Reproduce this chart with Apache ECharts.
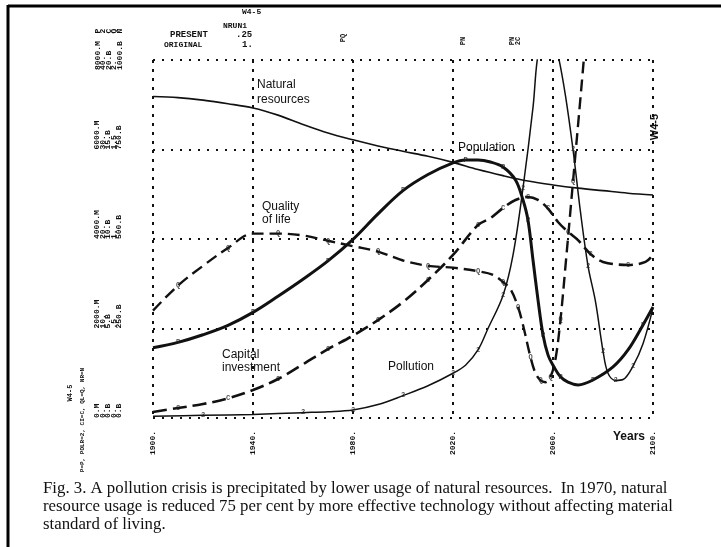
<!DOCTYPE html>
<html><head><meta charset="utf-8">
<script src="https://cdn.jsdelivr.net/npm/echarts@6/dist/echarts.min.js"></script>
<style>html,body{margin:0;padding:0;background:#fff}#c{width:721px;height:547px}</style>
</head><body><div id="c"></div>
<script>
// ---- data ----
const nrYears = [1900,1910,1920,1930,1940,1950,1960,1970,1980,1990,2000,2010,2020,2030,2040,2050,2060,2070,2080,2090,2100];
const nrValues = [898,895,888,878,866,846,820,796,777,760,745,731,714,694,677,662,651,642,635,628,623];

const popYears = [1900,1910,1920,1930,1940,1950,1960,1970,1980,1990,2000,2010,2020,2025,2030,2035,2040,2045,2048,2050,2052,2054,2056,2058,2060,2063,2066,2070,2076,2084,2090,2096,2100];
const popValues = [1570,1690,1860,2070,2360,2720,3100,3510,3990,4560,5080,5440,5700,5765,5765,5720,5610,5320,4870,4420,3530,2640,1860,1410,1180,920,800,740,850,1140,1520,2080,2480];

const ciYears = [1900,1910,1920,1930,1940,1950,1960,1970,1980,1990,2000,2010,2020,2030,2035,2040,2045,2050,2054,2058,2062,2066,2070,2075,2080,2090,2097,2100];
const ciValues = [0.34,0.56,0.78,1.1,1.56,2.18,3.0,3.85,4.6,5.47,6.48,7.71,9.11,10.78,11.17,11.73,12.18,12.35,12.18,11.7,10.95,10.4,9.94,9.16,8.72,8.55,8.72,9.11];

const qlYears = [1900,1910,1920,1930,1940,1950,1960,1970,1980,1990,2000,2010,2020,2030,2036,2040,2043,2046,2048,2051,2053,2055,2057,2059,2061,2063,2065,2068,2072,2076];
const qlValues = [0.60,0.74,0.85,0.95,1.03,1.03,1.02,0.99,0.96,0.93,0.88,0.85,0.84,0.82,0.80,0.76,0.72,0.62,0.52,0.34,0.25,0.21,0.20,0.23,0.33,0.55,0.85,1.32,1.95,2.6];

const polYears = [1900,1920,1940,1960,1970,1980,1990,2000,2010,2020,2025,2030,2034,2040,2044,2048,2052,2054,2058,2062,2065,2068,2071,2074,2077,2080,2082,2085,2088,2092,2096,2100];
const polValues = [0.2,0.3,0.4,0.6,0.7,0.9,1.5,2.5,3.6,5.0,5.9,7.6,10.0,13.7,18.2,25.7,34.7,40.6,45,40.6,36,30,23,17,13,7.5,5,4.2,4.3,5.8,8.3,12.3];

// ---- tick labels ----
const xTickLabels = ['1900.','1940.','1980.','2020.','2060.','2100.'];
const pTicks  = ['0.M','2000.M','4000.M','6000.M','8000.M'];
const polTicks = ['0.','10.','20.','30.','40.'];
const ciTicks = ['0.B','5.B','10.B','15.B','20.B'];
const qlTicks = ['0.','.5','1.','1.5','2.'];
const nrTicks = ['0.B','250.B','500.B','750.B','1000.B'];
const scaleLetters = ['P','2','C','Q','N'];

// ---- text ----
const captionLines = [
  'Fig. 3. A pollution crisis is precipitated by lower usage of natural resources.  In 1970, natural',
  'resource usage is reduced 75 per cent by more effective technology without affecting material',
  'standard of living.'
];

const pairs = (xs, ys) => xs.map((x, i) => [x, ys[i]]);
const mono = '"Liberation Mono", "DejaVu Sans Mono", monospace';
const sans = '"Liberation Sans", Arial, sans-serif';
const serif = '"Liberation Serif", "Times New Roman", serif';

const chart = echarts.init(document.getElementById('c'), null, {renderer: 'canvas'});

const hiddenY = (max) => ({type: 'value', min: 0, max: max, show: false, splitLine: {show: false}});

function rotText(x, y, text, size, font, weight, align) {
  return {type: 'text', x: x, y: y, rotation: Math.PI / 2,
    style: {text: text, font: (weight || 'normal') + ' ' + size + 'px ' + font, fill: '#111',
      align: align || 'center', verticalAlign: 'middle'}};
}
function plainText(x, y, text, size, font, weight) {
  return {type: 'text', x: x, y: y,
    style: {text: text, font: (weight || 'normal') + ' ' + size + 'px ' + font, fill: '#111',
      align: 'left', verticalAlign: 'middle'}};
}

// letter markers printed along each curve
function markerSeries(xs, ys, axisIdx, max, letter, step) {
  const pts = [];
  for (let i = 1; i < xs.length; i += step) {
    if (ys[i] <= max * 0.98 && xs[i] < 2100) pts.push([xs[i], ys[i]]);
  }
  return {type: 'scatter', yAxisIndex: axisIdx, data: pts, symbolSize: 0, silent: true, z: 3,
    label: {show: true, position: 'inside', formatter: letter, color: '#222',
      fontFamily: mono, fontSize: 7, fontWeight: 'bold'}};
}

const colX = [97.5, 103, 108.5, 114, 119.5];
const letterGraphics = scaleLetters.map((l, i) => rotText(colX[i], 31, l, 8, mono, 'bold'));
// the top row of scale labels is printed a little lower than the others
const topRow = [pTicks[4], polTicks[4], ciTicks[4], qlTicks[4], nrTicks[4]];
const topRowGraphics = topRow.map((t, i) => rotText(colX[i], 70, t, 8, mono, 'bold', 'left'));

const option = {
  animation: false,
  backgroundColor: '#fff',
  grid: {left: 153, top: 60, width: 500, height: 358, containLabel: false},
  xAxis: {
    type: 'value', min: 1900, max: 2100, interval: 40,
    axisLine: {show: false}, axisTick: {show: false},
    splitLine: {show: true, lineStyle: {color: '#111', width: 2, type: [3, 6]}},
    axisLabel: {rotate: 90, margin: 13, color: '#111', fontFamily: mono, fontSize: 8, fontWeight: 'bold',
      formatter: (v) => xTickLabels[Math.round((v - 1900) / 40)]}
  },
  yAxis: [
    {type: 'value', min: 0, max: 8000, interval: 2000,
      axisLine: {show: false}, axisTick: {show: false},
      splitLine: {show: true, lineStyle: {color: '#111', width: 2, type: [2, 7]}},
      axisLabel: {rotate: 90, margin: 31, color: '#111', fontFamily: mono, fontSize: 8, fontWeight: 'bold',
        lineHeight: 5.5, align: 'left', verticalAlign: 'bottom', showMaxLabel: false,
        formatter: (v) => {
          const i = Math.round(v / 2000);
          if (i >= 4) return '';
          return [pTicks[i], polTicks[i], ciTicks[i], qlTicks[i], nrTicks[i]].join('\n');
        }}
    },
    hiddenY(40), hiddenY(20), hiddenY(2), hiddenY(1000)
  ],
  series: [
    {name: 'Natural resources', type: 'line', yAxisIndex: 4, data: pairs(nrYears, nrValues),
      showSymbol: false, smooth: 0.35, lineStyle: {color: '#111', width: 1.6}},
    {name: 'Population', type: 'line', yAxisIndex: 0, data: pairs(popYears, popValues),
      showSymbol: false, smooth: 0.35, lineStyle: {color: '#111', width: 3}},
    {name: 'Capital investment', type: 'line', yAxisIndex: 2, data: pairs(ciYears, ciValues),
      showSymbol: false, smooth: 0.35, lineStyle: {color: '#111', width: 2.6, type: [14, 6]}},
    {name: 'Quality of life', type: 'line', yAxisIndex: 3, data: pairs(qlYears, qlValues),
      showSymbol: false, smooth: 0.35, lineStyle: {color: '#111', width: 2.4, type: [12, 6]}},
    {name: 'Pollution', type: 'line', yAxisIndex: 1, data: pairs(polYears, polValues),
      showSymbol: false, smooth: 0.35, lineStyle: {color: '#111', width: 1.5}},
    markerSeries(ciYears, ciValues, 2, 20, 'C', 2),
    markerSeries(qlYears, qlValues, 3, 2, 'Q', 2),
    markerSeries(polYears, polValues, 1, 40, '2', 2),
    markerSeries(popYears, popValues, 0, 8000, 'P', 3)
  ],
  graphic: [
    // frame
    {type: 'line', shape: {x1: 8, y1: 6, x2: 721, y2: 6}, style: {stroke: '#000', lineWidth: 3}},
    {type: 'line', shape: {x1: 8, y1: 5, x2: 8, y2: 547}, style: {stroke: '#000', lineWidth: 3}},
    // header printout text
    plainText(242, 12, 'W4-5', 8, mono, 'bold'),
    plainText(223, 26, 'NRUN1', 8, mono, 'bold'),
    plainText(170, 35, 'PRESENT', 9, mono, 'bold'),
    plainText(236, 35, '.25', 9, mono, 'bold'),
    plainText(164, 45, 'ORIGINAL', 8, mono, 'bold'),
    plainText(242, 45, '1.', 9, mono, 'bold'),
    rotText(343, 38, 'PQ', 7, mono, 'bold'),
    rotText(463, 41, 'PN', 7, mono, 'bold'),
    rotText(512, 41, 'PN', 7, mono, 'bold'),
    rotText(518, 41, '2C', 7, mono, 'bold'),
    ...letterGraphics,
    ...topRowGraphics,
    // left side printout text
    rotText(70, 393, 'W4-5', 7, mono, 'bold'),
    rotText(82, 420, 'P=P, POLR=2, CI=C, QL=Q, NR=N', 6, mono, 'bold'),
    // hand-written code at right
    rotText(655, 127, 'W4-5', 11, sans, 'bold'),
    // curve annotations
    plainText(257, 85, 'Natural', 12, sans),
    plainText(257, 100, 'resources', 12, sans),
    plainText(458, 148, 'Population', 12, sans),
    plainText(262, 207, 'Quality', 12, sans),
    plainText(262, 220, 'of life', 12, sans),
    plainText(222, 355, 'Capital', 12, sans),
    plainText(222, 368, 'investment', 12, sans),
    plainText(388, 367, 'Pollution', 12, sans),
    plainText(613, 437, 'Years', 12, sans, 'bold'),
    // caption
    plainText(43, 489, captionLines[0], 16.8, serif),
    plainText(43, 507, captionLines[1], 16.8, serif),
    plainText(43, 525, captionLines[2], 16.8, serif)
  ]
};
chart.setOption(option);
</script></body></html>
